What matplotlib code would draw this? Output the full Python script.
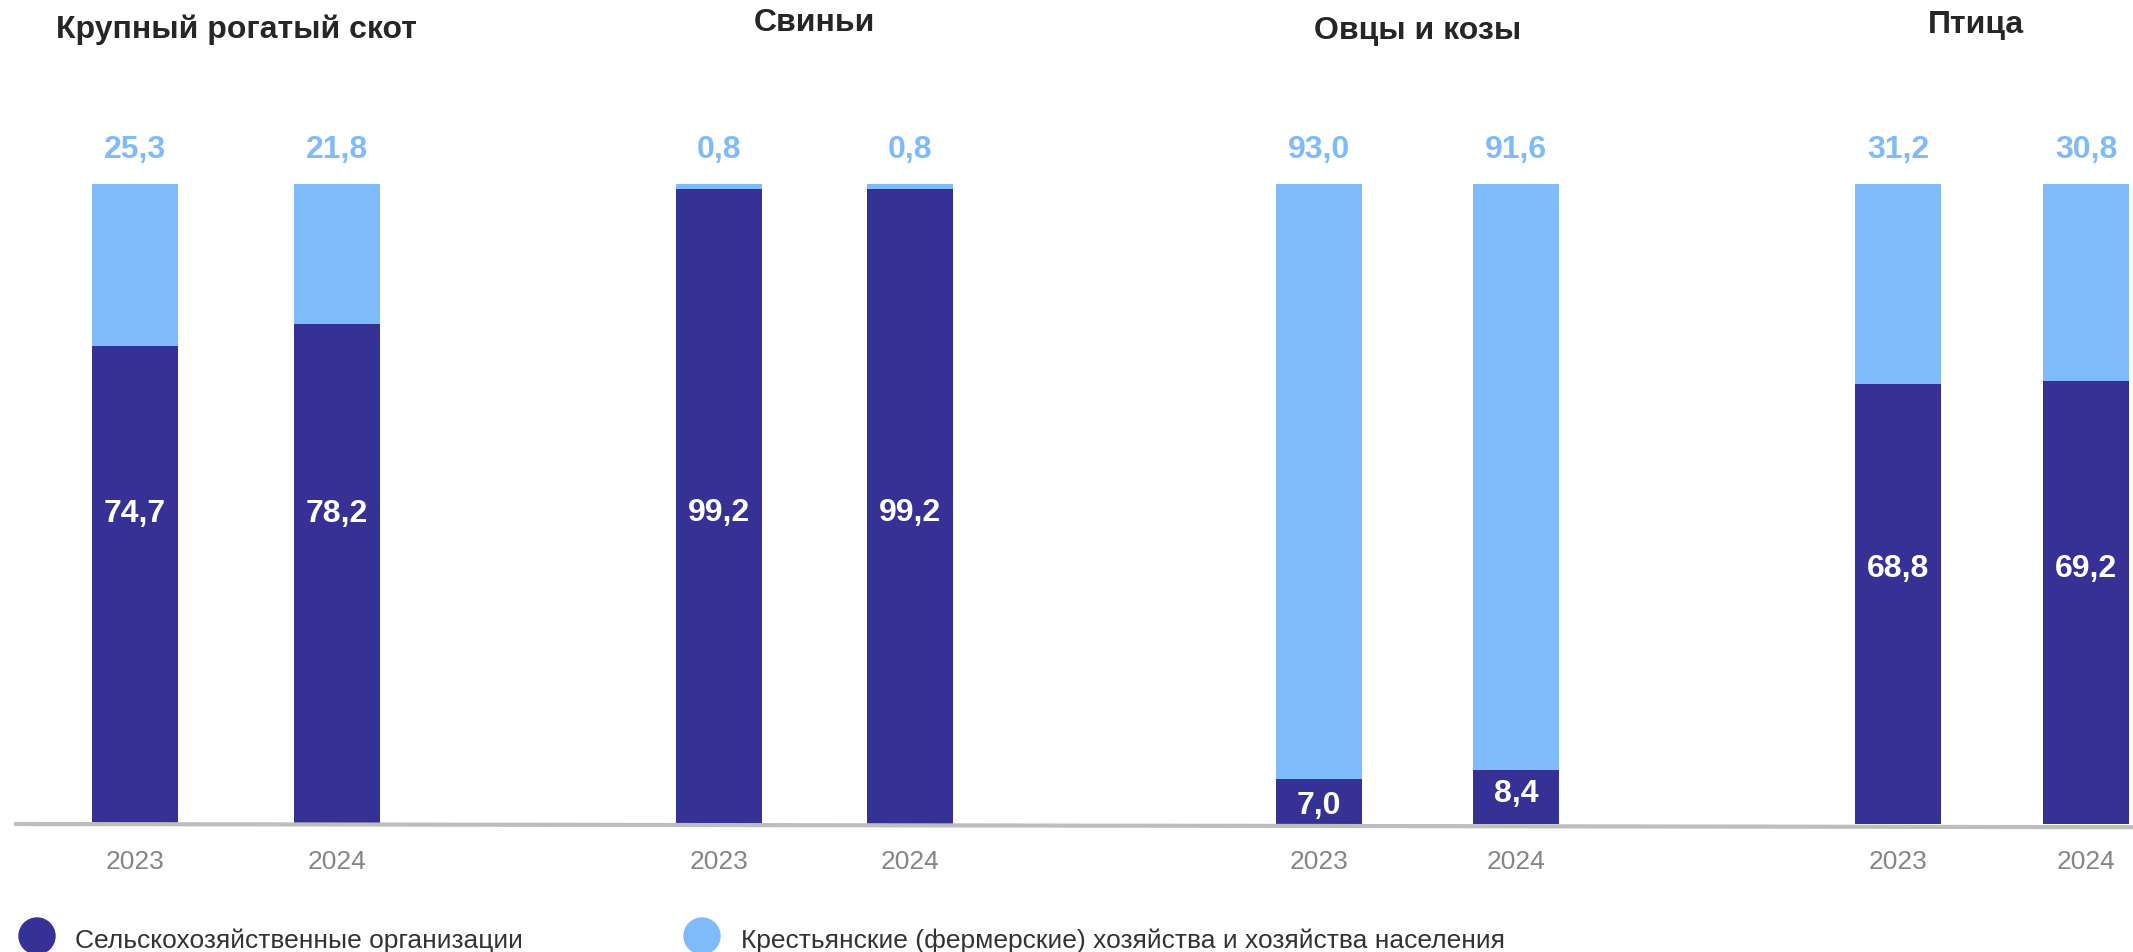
import matplotlib
matplotlib.use("Agg")
import matplotlib.pyplot as plt
from matplotlib.patches import Ellipse

# ---------------- data ----------------
groups = ["Крупный рогатый скот", "Свиньи", "Овцы и козы", "Птица"]
years = ["2023", "2024"]
series_names = ["Сельскохозяйственные организации",
                "Крестьянские (фермерские) хозяйства и хозяйства населения"]
agri_org = [74.7, 78.2, 99.2, 99.2, 7.0, 8.4, 68.8, 69.2]
farms_households = [25.3, 21.8, 0.8, 0.8, 93.0, 91.6, 31.2, 30.8]

# ---------------- layout / style ----------------
W, H = 2133, 953
DPI = 100
dark = "#363194"
light = "#7fbbfa"
font = ["Liberation Sans", "DejaVu Sans"]
plt.rcParams["font.family"] = font

bar_x = [135, 337, 719, 910, 1319, 1516, 1898, 2086]   # pixel centres
bar_w = 86
base_px = 825      # y of baseline (from top)
top_px = 185       # y of 100 % (from top)
units_per_px = 100.0 / (base_px - top_px)
ylo = -(H - base_px) * units_per_px
yhi = 100 + top_px * units_per_px
# label position inside dark bar (data units) – as in the reference
dark_label_y = [48.6, 48.6, 48.7, 48.7, 3.0, 4.8, 40.0, 40.0]

fig = plt.figure(figsize=(W / DPI, H / DPI), dpi=DPI)
ax = fig.add_axes([0, 0, 1, 1])
ax.set_xlim(0, W)
ax.set_ylim(ylo, yhi)
ax.axis("off")

ax.bar(bar_x, agri_org, width=bar_w, color=dark, zorder=2)
ax.bar(bar_x, farms_households, bottom=agri_org, width=bar_w, color=light, zorder=2)

# baseline
ax.plot([14, W], [0, -0.5], color="#bdbdbd", lw=3, zorder=3, solid_capstyle="butt")

for i, x in enumerate(bar_x):
    ax.text(x, dark_label_y[i], f"{agri_org[i]:.1f}".replace(".", ","),
            ha="center", va="center", color="white", fontsize=23, fontweight="bold", zorder=4)
    top = agri_org[i] + farms_households[i]
    ax.annotate(f"{farms_households[i]:.1f}".replace(".", ","), (x, top),
                xytext=(0, 25), textcoords="offset points",
                ha="center", va="center", color=light, fontsize=23, fontweight="bold")
    ax.text(x, -(862 - base_px) * units_per_px, years[i % 2], ha="center", va="center",
            color="#858585", fontsize=19)

# group titles
title_y_px = [30, 23, 31, 25]
for g, name in enumerate(groups):
    cx = (bar_x[2 * g] + bar_x[2 * g + 1]) / 2
    if g == 3:
        cx -= 16
    fig.text(cx / W, 1 - title_y_px[g] / H, name, ha="center", va="center",
             fontsize=23, fontweight="bold", color="#262626")

# legend
leg_items = [(37, 75, dark, series_names[0]), (702, 741, light, series_names[1])]
for cx, tx, col, label in leg_items:
    e = Ellipse((cx / W, 1 - 937 / H), 36 / W, 36 / H, transform=fig.transFigure,
                color=col, clip_on=False)
    fig.patches.append(e)
    fig.text(tx / W, 1 - 941 / H, label, ha="left", va="center", fontsize=19, color="#333333")

fig.savefig("out.png", dpi=DPI)
